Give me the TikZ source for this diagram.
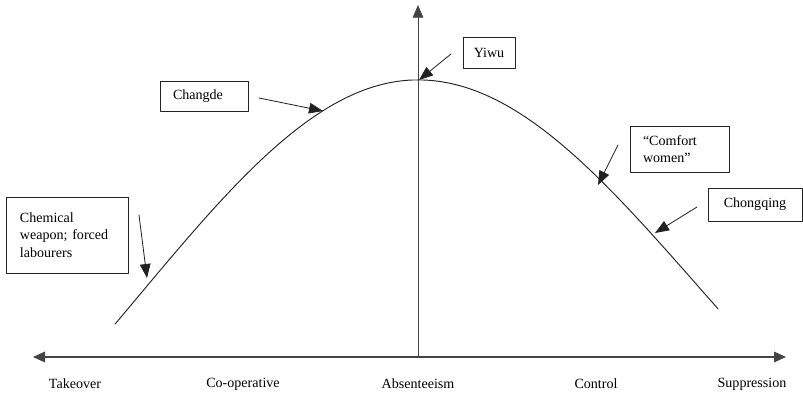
\documentclass[tikz,border=0pt]{standalone}
\usepackage{fontspec}
\setmainfont{Liberation Serif}
\usetikzlibrary{arrows.meta,positioning,calc}
\definecolor{inkgray}{HTML}{222222}
\definecolor{axisgray}{HTML}{444444}

\begin{document}
\begin{tikzpicture}[
		x=0.03cm,
		y=-0.03cm,
		line cap=round,
		line join=round,
		labelbox/.style={draw=inkgray,line width=0.6pt,font=\fontsize{12}{15}\selectfont,align=left,inner ysep=0pt},
		axislabel/.style={font=\fontsize{12}{15}\selectfont},
		axis/.style={line width=1pt,draw=axisgray,{Triangle[length=0.36cm,width=0.32cm]}-{Triangle[length=0.36cm,width=0.32cm]}},
		pointer/.style={-{Triangle[length=0.42cm,width=0.32cm]},line width=0.7pt,draw=inkgray},
		trend/.style={line width=0.8pt,draw=inkgray}
	]
	
	\useasboundingbox (0,0) rectangle (803,397);
	
	% Axes
	\coordinate (axl) at (33,357);
	\coordinate (axr) at (786,357);
	\coordinate (axo) at (418,357);
	\coordinate (axt) at (418,5);
	\draw[axis] (axl) -- (axr);
	\draw[line width=0.6pt,draw=axisgray,-{Triangle[length=0.38cm,width=0.32cm]}] (axo) -- (axt);
	
	% Axis labels
	\node[axislabel] (takeover) at (75,384) {Takeover};
	\node[axislabel] (coop) at (243,384) {Co-operative};
	\node[axislabel] (absent) at (418,384) {Absenteeism};
	\node[axislabel] (control) at (596,384) {Control};
	\node[axislabel] (suppr) at (752,384) {Suppression};
	
	% Bell curve
	\draw[trend] plot[domain=-3.03:0,samples=70]
	({418+100*\x},{80+551*(1-exp(-\x*\x/15.68))});
	\draw[trend] plot[domain=0:3.0,samples=70]
	({418+100*\x},{80+524*(1-exp(-\x*\x/15.68))});
	
	% Boxes
	\node[labelbox,text width=2.82cm,inner xsep=0.42cm,minimum height=2.28cm] (chemical) at (67,235)
	{Chemical\\weapon; forced\\labourers};
	\node[labelbox,text width=1.86cm,inner xsep=0.39cm,minimum height=0.9cm] (changde) at (204,96)
	{Changde};
	\node[labelbox,align=center,minimum width=1.56cm,minimum height=0.93cm] (yiwu) at (489,52.5)
	{Yiwu};
	\node[labelbox,text width=2.19cm,inner xsep=0.39cm,minimum height=1.38cm] (comfort) at (679.5,149)
	{``Comfort\\women''};
	\node[labelbox,align=center,minimum width=2.82cm,minimum height=0.99cm] (chongqing) at (755,204.5)
	{Chongqing};
	
	% Pointers onto the curve
	\coordinate (chemfrom) at (139,215);
	\coordinate (chemto) at (147,278);
	\coordinate (changfrom) at (259,98);
	\coordinate (changto) at (323,111);
	\coordinate (yiwufrom) at (451,54);
	\coordinate (yiwuto) at (419,80);
	\coordinate (comffrom) at (618,145);
	\coordinate (comfto) at (598,185);
	\coordinate (chongfrom) at (697,207);
	\coordinate (chongto) at (655,233);
	\draw[pointer] (chemfrom) -- (chemto);
	\draw[pointer] (changfrom) -- (changto);
	\draw[pointer] (yiwufrom) -- (yiwuto);
	\draw[pointer] (comffrom) -- (comfto);
	\draw[pointer] (chongfrom) -- (chongto);
	
\end{tikzpicture}
\end{document}
